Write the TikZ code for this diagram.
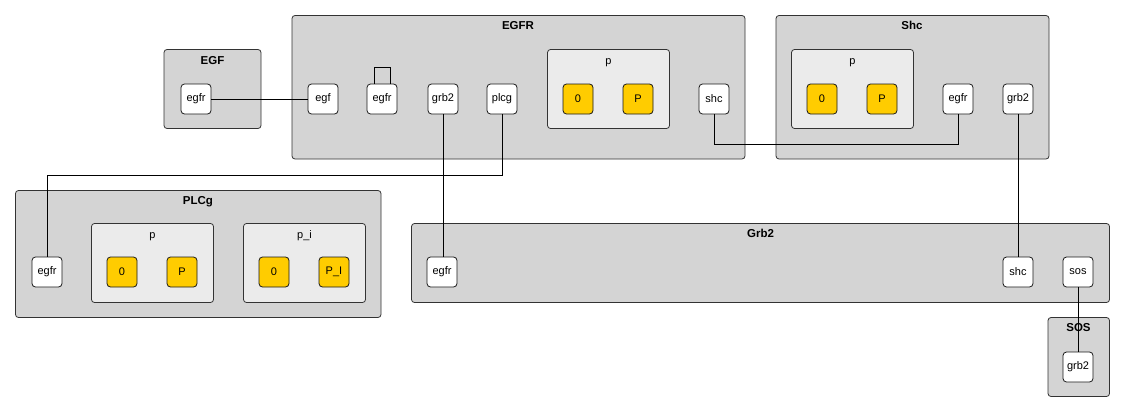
\documentclass[tikz,border=0pt]{standalone}
\usepackage{fontspec}
\setmainfont{Liberation Sans}
\begin{document}
\begin{tikzpicture}[x=1pt,y=-1pt,
  comp/.style={draw=black!80,fill=black!17,rounded corners=3pt,line width=0.8pt},
  grp/.style={draw=black!80,fill=black!8,rounded corners=3pt,line width=0.8pt},
  site/.style={draw=black!90,fill=white,rounded corners=3.5pt,line width=0.8pt,minimum width=30pt,minimum height=30pt,inner sep=0pt,font=\fontsize{11}{13}\selectfont},
  val/.style={site,fill=yellow!80!orange,fill={rgb,255:red,255;green,204;blue,0}},
  ctitle/.style={anchor=base,inner sep=0pt,font=\fontsize{11.5}{13}\selectfont\bfseries},
  gtitle/.style={anchor=base,inner sep=0pt,font=\fontsize{11}{13}\selectfont},
  link/.style={draw=black,line width=0.8pt}]
\useasboundingbox (0,0) rectangle (1124,412);
\fill[white] (0,0) rectangle (1124,412);
% compartments
\path[comp] (164,49.5) rectangle (261,128.5);
\node[ctitle] (tEGF) at (212.5,64) {EGF};
\path[comp] (292,15.5) rectangle (745,159);
\node[ctitle] (tEGFR) at (518,30) {EGFR};
\path[comp] (776,15.5) rectangle (1049,159);
\node[ctitle] (tShc) at (912,30) {Shc};
\path[comp] (15.5,190.5) rectangle (381,317.5);
\node[ctitle] (tPLCg) at (198,204.5) {PLCg};
\path[comp] (411.5,223.5) rectangle (1109.5,302.5);
\node[ctitle] (tGrb2) at (760.5,237.5) {Grb2};
\path[comp] (1048,317.5) rectangle (1109.5,396.5);
\node[ctitle] (tSOS) at (1078.5,331.5) {SOS};
% groups
\path[grp] (547.5,49.5) rectangle (669.5,128.5);
\node[gtitle] (tEp) at (608.5,64) {p};
\path[grp] (791.5,49.5) rectangle (913.5,128.5);
\node[gtitle] (tSp) at (852.5,64) {p};
\path[grp] (91.5,223.5) rectangle (213.5,302.5);
\node[gtitle] (tPp) at (152.5,238) {p};
\path[grp] (243.5,223.5) rectangle (365.5,302.5);
\node[gtitle] (tPpi) at (304.5,238) {p\_i};
% sites
\node[site] (Fegfr) at (196,99) {egfr};
\node[site] (Eegf) at (323,99) {egf};
\node[site] (Eegfr) at (382,99) {egfr};
\node[site] (Egrb) at (443,99) {grb2};
\node[site] (Eplcg) at (502,99) {plcg};
\node[val] (E0) at (578,99) {0};
\node[val] (EP) at (638,99) {P};
\node[site] (Eshc) at (714,99) {shc};
\node[val] (S0) at (822,99) {0};
\node[val] (SP) at (882,99) {P};
\node[site] (Segfr) at (958,99) {egfr};
\node[site] (Sgrb) at (1018,99) {grb2};
\node[site] (Pegfr) at (47,272) {egfr};
\node[val] (P0) at (122,272) {0};
\node[val] (PP) at (182,272) {P};
\node[val] (Pi0) at (274,272) {0};
\node[val] (PiP) at (334,272) {P\_I};
\node[site] (Gegfr) at (442,272) {egfr};
\node[site] (Gshc) at (1018,272) {shc};
\node[site] (Gsos) at (1078,272) {sos};
\node[site] (Ogrb) at (1078,367) {grb2};
% links
\draw[link] (Fegfr.east) -- (Eegf.west);
\draw[link] ([xshift=-7.5pt]Eegfr.north) -- ++(0,-16) -| ([xshift=8.5pt]Eegfr.north);
\draw[link] (Egrb.south) -- (Gegfr.north -| Egrb.south);
\draw[link] (Eplcg.south) -- ++(0,60.5) -| (Pegfr.north);
\draw[link] (Eshc.south) -- ++(0,29.5) -| (Segfr.south);
\draw[link] (Sgrb.south) -- (Gshc.north);
\draw[link] (Gsos.south) -- (Ogrb.north);
\end{tikzpicture}
\end{document}
